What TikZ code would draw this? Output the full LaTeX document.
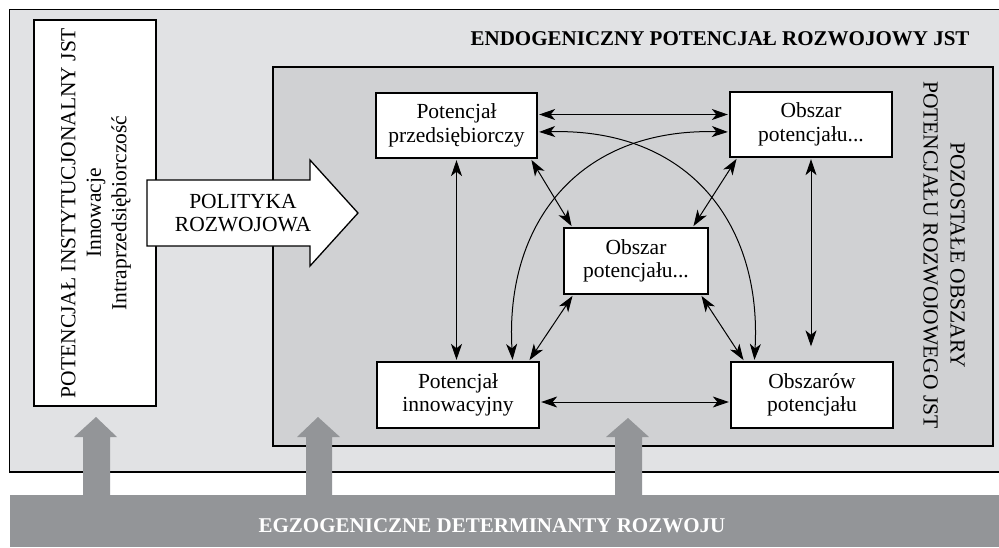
\documentclass[tikz,border=0pt]{standalone}
\usepackage{fontspec}
\setmainfont{Liberation Serif}
\usetikzlibrary{arrows.meta,calc}
\definecolor{outerg}{HTML}{E1E2E4}
\definecolor{innerg}{HTML}{D0D1D3}
\definecolor{bandg}{HTML}{939598}
\begin{document}
\begin{tikzpicture}[x=1pt,y=-1pt,
  font=\fontsize{21.5}{23.5}\selectfont,
  box/.style={draw=black, line width=1.3pt, fill=white, align=center, inner sep=0pt},
  tipshape/.tip={Stealth[length=16pt,width=11pt,inset=4.5pt]},
  dbl/.style={tipshape-tipshape, line width=1pt, shorten <=1.5pt, shorten >=1.5pt},
  grayarrow/.style={fill=bandg}]
\clip (0,0) rectangle (999,547);
\useasboundingbox (0,0) rectangle (999,547);
\fill[white] (0,0) rectangle (999,547);
% outer and inner frames
\draw[fill=outerg, line width=1.3pt] (9.5,9.5) rectangle (1010,472);
\draw[fill=innerg, line width=1.3pt] (273,67) rectangle (993,446);
% left institutional box
\node[box, minimum width=122, minimum height=386] (inst) at (95,213) {};
\node[rotate=90, align=center, font=\fontsize{21.5}{25.5}\selectfont] (insttext) at (96,213)
  {POTENCJAŁ INSTYTUCJONALNY JST\\Innowacje\\Intraprzedsiębiorczość};
% titles
\node[anchor=base east, font=\fontsize{21}{23.5}\selectfont\bfseries] (title) at (973,45)
  {ENDOGENICZNY POTENCJAŁ ROZWOJOWY JST};
\node[rotate=-90, align=center, font=\fontsize{21.5}{27}\selectfont] (rtext) at (944,255)
  {POZOSTAŁE OBSZARY\\POTENCJAŁU ROZWOJOWEGO JST};
% polityka arrow
\draw[fill=white, line width=1.3pt] (147,180) -- (310,180) -- (310,160) -- (358,213)
  -- (310,266) -- (310,246) -- (147,246) -- cycle;
\node[align=center] (pol) at (243,213) {POLITYKA\\ROZWOJOWA};
% inner nodes
\node[box, minimum width=161, minimum height=65] (pp) at (456.5,125.5) {Potencjał\\przedsiębiorczy};
\node[box, minimum width=162, minimum height=65] (tr) at (811,124.5) {Obszar\\potencjału...};
\node[box, minimum width=144, minimum height=66] (mid) at (636,261) {Obszar\\potencjału...};
\node[box, minimum width=162, minimum height=66] (inn) at (458,395) {Potencjał\\innowacyjny};
\node[box, minimum width=162, minimum height=66] (ob) at (812,395) {Obszarów\\potencjału};
% connectors
\draw[dbl] ([yshift=11pt]pp.east) -- ([yshift=11pt]pp.east -| tr.west);
\draw[dbl] ([yshift=-7pt]inn.east) -- ([yshift=-7pt]inn.east -| ob.west);
\draw[dbl] (pp.south) -- (pp.south |- inn.north);
\draw[dbl, shorten >=15pt] (tr.south) -- (tr.south |- ob.north);
\draw[dbl] ([xshift=-7pt]pp.south east) -- ([xshift=9pt]mid.north west);
\draw[dbl] ([xshift=8pt]tr.south west) -- ([xshift=-16pt]mid.north east);
\draw[dbl] ([xshift=10pt]mid.south west) -- ([xshift=-11pt]inn.north east);
\draw[dbl] ([xshift=-8pt]mid.south east) -- ([xshift=14pt]ob.north west);
\draw[dbl] ([yshift=-6.5pt]pp.east) .. controls (690,128) and (762,225) .. ([xshift=24pt]ob.north west);
\draw[dbl] ([yshift=-7.5pt]tr.west) .. controls (577,128) and (505,225) .. ([xshift=-27pt]inn.north east);
% bottom band and gray arrows
\fill[bandg] (10,495) rectangle (999,547);
\fill[grayarrow] (83,496) -- (83,437) -- (74,437) -- (96,417) -- (117,437) -- (110,437) -- (110,496) -- cycle;
\fill[grayarrow] (306,496) -- (306,437) -- (297,437) -- (318,417) -- (340,437) -- (332,437) -- (332,496) -- cycle;
\fill[grayarrow] (615,496) -- (615,437) -- (606,437) -- (628,418) -- (649,437) -- (642,437) -- (642,496) -- cycle;
\node[anchor=base, text=white, font=\fontsize{21}{23.5}\selectfont\bfseries] (egz) at (492,532)
  {EGZOGENICZNE DETERMINANTY ROZWOJU};
\end{tikzpicture}
\end{document}
